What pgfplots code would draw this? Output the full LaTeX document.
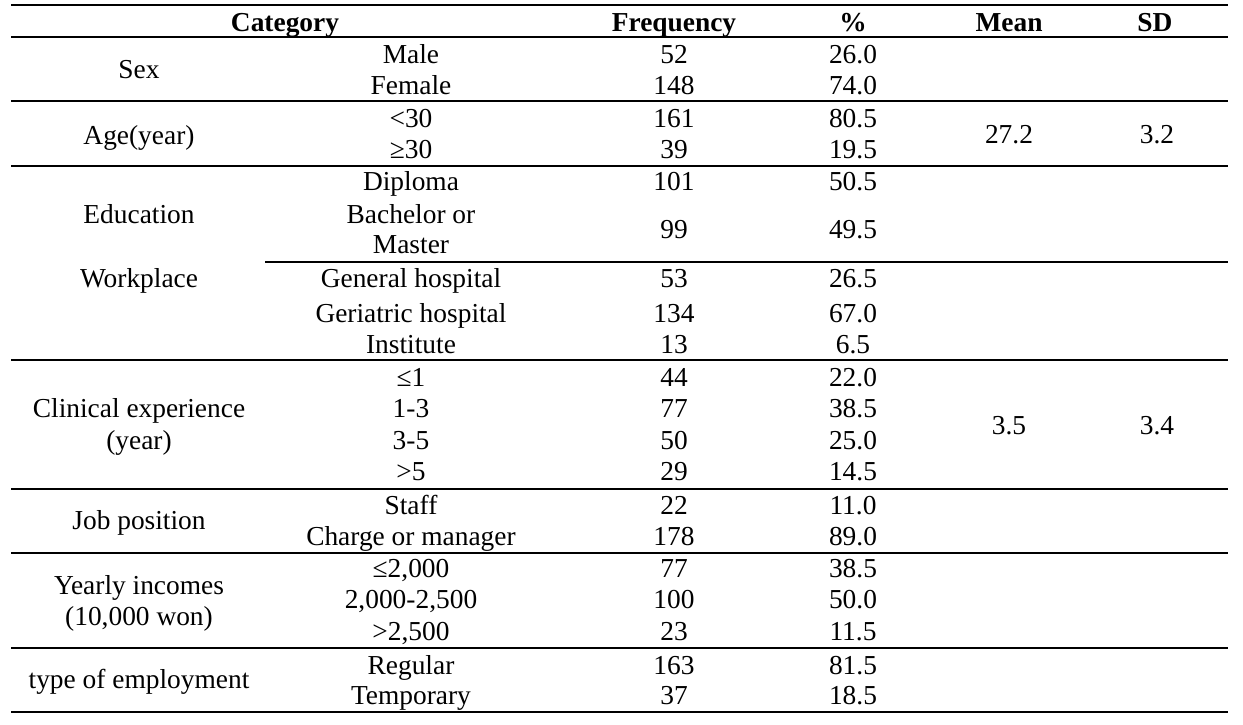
\documentclass[border=0pt]{standalone}
\usepackage{fontspec}
\setmainfont{Liberation Serif}
\usepackage{pgfplots}
\pgfplotsset{compat=1.18}
\tikzset{cell/.style={anchor=base,inner sep=0pt,font=\fontsize{13.7}{16}\selectfont}}
\newcommand{\T}[3]{\node[cell] at (axis cs:#1,#2) {#3};}
\newcommand{\HL}[3]{\addplot[black,line width=1pt] coordinates {(#1,#3) (#2,#3)};}
\begin{document}
\begin{tikzpicture}
\begin{axis}[scale only axis,width=621.5pt,height=362pt,
  xmin=0,xmax=1243,ymin=0,ymax=724,y dir=reverse,hide axis,clip=false]
\addplot[draw=none] coordinates {(0,0) (1243,724)};
% rules
\HL{11}{1228}{5}
\HL{11}{1228}{37}
\HL{11}{1228}{101}
\HL{11}{1228}{166}
\HL{265}{1228}{262}
\HL{11}{1228}{360}
\HL{11}{1228}{489}
\HL{11}{1228}{553}
\HL{11}{1228}{648}
\HL{11}{1228}{712}
% header
\T{285}{31}{\bfseries Category}
\T{674}{31}{\bfseries Frequency}
\T{853}{31}{\bfseries \%}
\T{1009}{31}{\bfseries Mean}
\T{1155}{31}{\bfseries SD}
% first column
\T{139}{78}{Sex}
\T{139}{144}{Age(year)}
\T{139}{223}{Education}
\T{139}{287}{Workplace}
\T{139}{417}{Clinical experience}
\T{139}{449}{(year)}
\T{139}{529}{Job position}
\T{139}{594}{Yearly incomes}
\T{139}{625}{(10,000 won)}
\T{139}{688}{type of employment}
% second column
\T{411}{63}{Male}
\T{411}{94}{Female}
\T{411}{127}{<30}
\T{411}{158}{≥30}
\T{411}{190}{Diploma}
\T{411}{223}{Bachelor or}
\T{411}{253}{Master}
\T{411}{287}{General hospital}
\T{411}{322}{Geriatric hospital}
\T{411}{353}{Institute}
\T{411}{386}{≤1}
\T{411}{417}{1-3}
\T{411}{449}{3-5}
\T{411}{480}{>5}
\T{411}{514}{Staff}
\T{411}{545}{Charge or manager}
\T{411}{577}{≤2,000}
\T{411}{608}{2,000-2,500}
\T{411}{640}{>2,500}
\T{411}{674}{Regular}
\T{411}{704}{Temporary}
% frequency
\T{674}{63}{52}     \T{853}{63}{26.0}
\T{674}{94}{148}    \T{853}{94}{74.0}
\T{674}{127}{161}   \T{853}{127}{80.5}
\T{674}{158}{39}    \T{853}{158}{19.5}
\T{674}{190}{101}   \T{853}{190}{50.5}
\T{674}{238}{99}    \T{853}{238}{49.5}
\T{674}{287}{53}    \T{853}{287}{26.5}
\T{674}{322}{134}   \T{853}{322}{67.0}
\T{674}{353}{13}    \T{853}{353}{6.5}
\T{674}{386}{44}    \T{853}{386}{22.0}
\T{674}{417}{77}    \T{853}{417}{38.5}
\T{674}{449}{50}    \T{853}{449}{25.0}
\T{674}{480}{29}    \T{853}{480}{14.5}
\T{674}{514}{22}    \T{853}{514}{11.0}
\T{674}{545}{178}   \T{853}{545}{89.0}
\T{674}{577}{77}    \T{853}{577}{38.5}
\T{674}{608}{100}   \T{853}{608}{50.0}
\T{674}{640}{23}    \T{853}{640}{11.5}
\T{674}{674}{163}   \T{853}{674}{81.5}
\T{674}{704}{37}    \T{853}{704}{18.5}
% mean, sd
\T{1009}{143}{27.2} \T{1157}{143}{3.2}
\T{1009}{434}{3.5}  \T{1157}{434}{3.4}
\end{axis}
\end{tikzpicture}
\end{document}
